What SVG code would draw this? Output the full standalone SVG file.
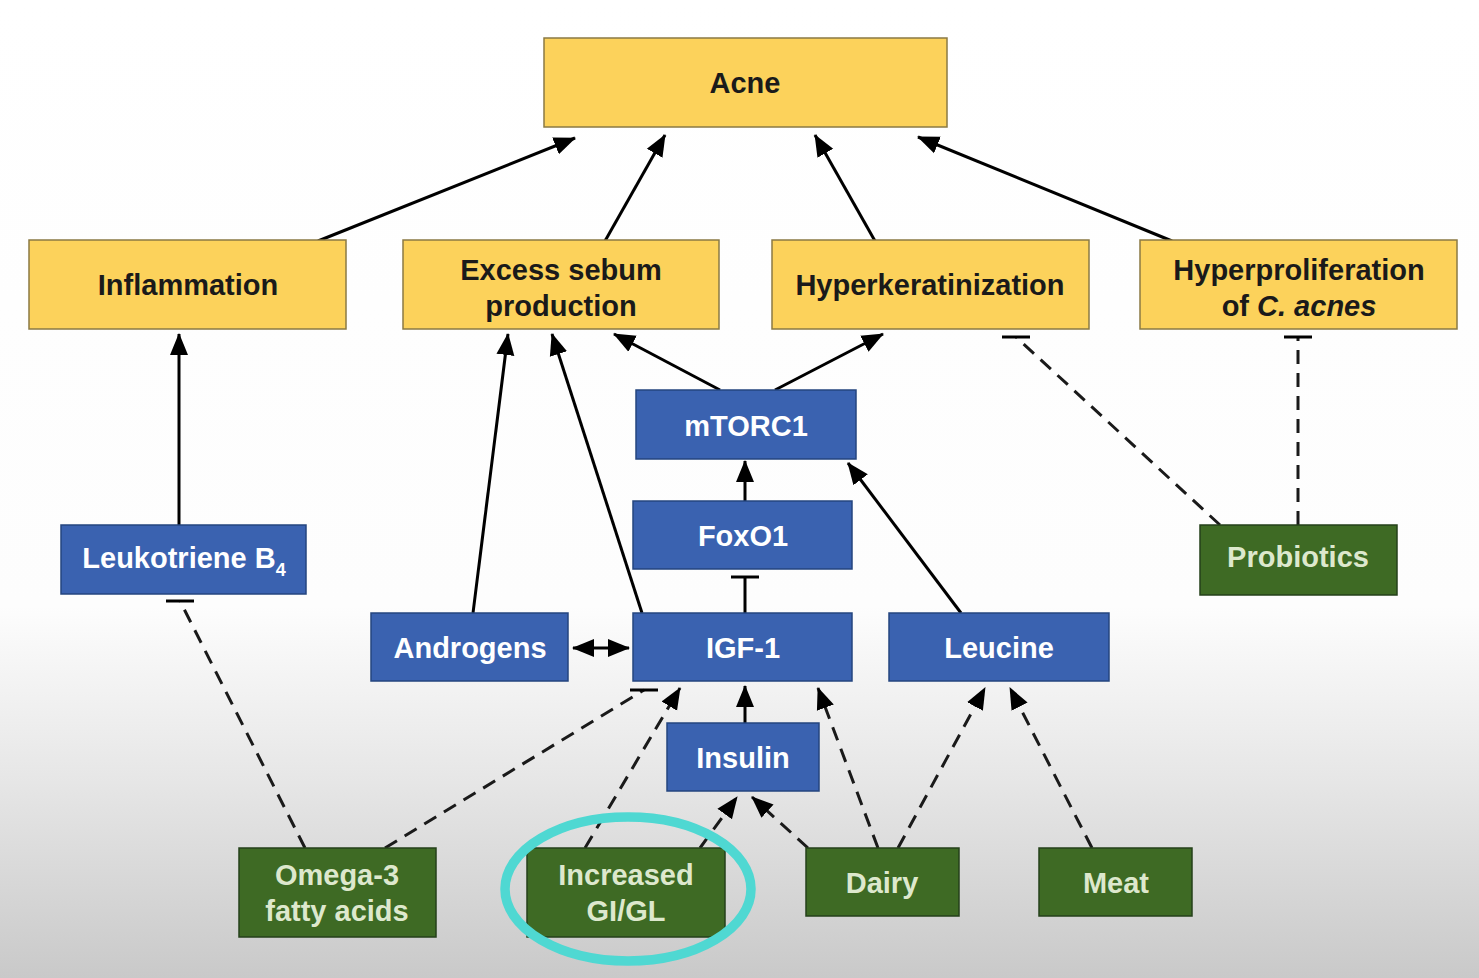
<svg xmlns="http://www.w3.org/2000/svg" width="1479" height="978" viewBox="0 0 1479 978">
<defs>
<linearGradient id="bg" x1="0" y1="0" x2="0" y2="1">
<stop offset="0" stop-color="#ffffff"/>
<stop offset="0.62" stop-color="#fdfdfd"/>
<stop offset="0.8" stop-color="#e6e6e6"/>
<stop offset="1" stop-color="#c9c9c9"/>
</linearGradient>
<marker id="arr" markerUnits="userSpaceOnUse" markerWidth="24" markerHeight="20" refX="21" refY="10" orient="auto-start-reverse">
<path d="M0,1 L22,10 L0,19 z" fill="#000"/>
</marker>
<marker id="tee" markerUnits="userSpaceOnUse" markerWidth="32" markerHeight="8" refX="16" refY="4" orient="0">
<path d="M2,4 L30,4" stroke="#000" stroke-width="3"/>
</marker>
<style>
.y{fill:#fcd25b;stroke:#8a7a44;stroke-width:1.5}
.b{fill:#3a62b0;stroke:#25457f;stroke-width:1.5}
.g{fill:#3e6a24;stroke:#24401a;stroke-width:1.5}
.t{font-family:"Liberation Sans",Arial,Helvetica,sans-serif;font-weight:bold;font-size:29px;text-anchor:middle}
.ty{fill:#1a1a1a}
.tb{fill:#ffffff}
.tg{fill:#dde8cd}
.s{fill:none;stroke:#000;stroke-width:3}
.d{fill:none;stroke:#1a1a1a;stroke-width:3;stroke-dasharray:14 9}
.a{marker-end:url(#arr)}
.tt{marker-end:url(#tee)}
</style>
</defs>
<rect x="0" y="0" width="1479" height="978" fill="url(#bg)"/>

<g id="connectors">
<line class="s a" x1="318" y1="241" x2="575" y2="138"/>
<line class="s a" x1="605" y1="241" x2="665" y2="135"/>
<line class="s a" x1="875" y1="241" x2="815" y2="135"/>
<line class="s a" x1="1172" y1="241" x2="918" y2="137"/>
<line class="s a" x1="179" y1="525" x2="179" y2="334"/>
<line class="s a" x1="473" y1="613" x2="508" y2="334"/>
<line class="s a" x1="642" y1="613" x2="552" y2="334"/>
<line class="s a" x1="720" y1="390" x2="614" y2="334"/>
<line class="s a" x1="775" y1="390" x2="883" y2="334"/>
<line class="s a" x1="745" y1="501" x2="745" y2="461"/>
<line class="s a" x1="961" y1="613" x2="848" y2="463"/>
<line class="s tt" x1="745" y1="613" x2="745" y2="577"/>
<line class="s a" x1="745" y1="723" x2="745" y2="686"/>
<line class="s a" x1="573" y1="648" x2="629" y2="648" marker-start="url(#arr)"/>
<line class="d tt" x1="305" y1="848" x2="180" y2="601"/>
<line class="d tt" x1="385" y1="848" x2="644" y2="690"/>
<line class="d a" x1="585" y1="848" x2="680" y2="688"/>
<line class="d a" x1="700" y1="848" x2="737" y2="797"/>
<line class="d a" x1="808" y1="848" x2="752" y2="797"/>
<line class="d a" x1="878" y1="848" x2="818" y2="688"/>
<line class="d a" x1="898" y1="848" x2="985" y2="688"/>
<line class="d a" x1="1092" y1="848" x2="1010" y2="688"/>
<line class="d tt" x1="1220" y1="525" x2="1016" y2="337"/>
<line class="d tt" x1="1298" y1="525" x2="1298" y2="337"/>
</g>

<g id="acne"><rect class="y" x="544" y="38" width="403" height="89"/><text class="t ty" x="745" y="93">Acne</text></g>
<g id="inflammation"><rect class="y" x="29" y="240" width="317" height="89"/><text class="t ty" x="188" y="295">Inflammation</text></g>
<g id="sebum"><rect class="y" x="403" y="240" width="316" height="89"/><text class="t ty" x="561" y="280">Excess sebum</text><text class="t ty" x="561" y="316">production</text></g>
<g id="hyperkeratinization"><rect class="y" x="772" y="240" width="317" height="89"/><text class="t ty" x="930" y="295">Hyperkeratinization</text></g>
<g id="hyperproliferation"><rect class="y" x="1140" y="240" width="317" height="89"/><text class="t ty" x="1299" y="280">Hyperproliferation</text><text class="t ty" x="1299" y="316">of <tspan font-style="italic">C. acnes</tspan></text></g>

<g id="mtorc1"><rect class="b" x="636" y="390" width="220" height="69"/><text class="t tb" x="746" y="436">mTORC1</text></g>
<g id="foxo1"><rect class="b" x="633" y="501" width="219" height="68"/><text class="t tb" x="743" y="546">FoxO1</text></g>
<g id="igf1"><rect class="b" x="633" y="613" width="219" height="68"/><text class="t tb" x="743" y="658">IGF-1</text></g>
<g id="androgens"><rect class="b" x="371" y="613" width="197" height="68"/><text class="t tb" x="470" y="658">Androgens</text></g>
<g id="leucine"><rect class="b" x="889" y="613" width="220" height="68"/><text class="t tb" x="999" y="658">Leucine</text></g>
<g id="leukotriene"><rect class="b" x="61" y="525" width="245" height="69"/><text class="t tb" x="184" y="568">Leukotriene B<tspan font-size="18" dy="8">4</tspan></text></g>
<g id="insulin"><rect class="b" x="667" y="723" width="152" height="68"/><text class="t tb" x="743" y="768">Insulin</text></g>

<g id="probiotics"><rect class="g" x="1200" y="525" width="197" height="70"/><text class="t tg" x="1298" y="567">Probiotics</text></g>
<g id="omega3"><rect class="g" x="239" y="848" width="197" height="89"/><text class="t tg" x="337" y="885">Omega-3</text><text class="t tg" x="337" y="921">fatty acids</text></g>
<g id="gigl"><rect class="g" x="527" y="848" width="198" height="89"/><text class="t tg" x="626" y="885">Increased</text><text class="t tg" x="626" y="921">GI/GL</text></g>
<g id="dairy"><rect class="g" x="806" y="848" width="153" height="68"/><text class="t tg" x="882" y="893">Dairy</text></g>
<g id="meat"><rect class="g" x="1039" y="848" width="153" height="68"/><text class="t tg" x="1116" y="893">Meat</text></g>

<ellipse cx="628" cy="889" rx="123" ry="72" fill="none" stroke="#4fd8d2" stroke-width="9.5"/>
</svg>
